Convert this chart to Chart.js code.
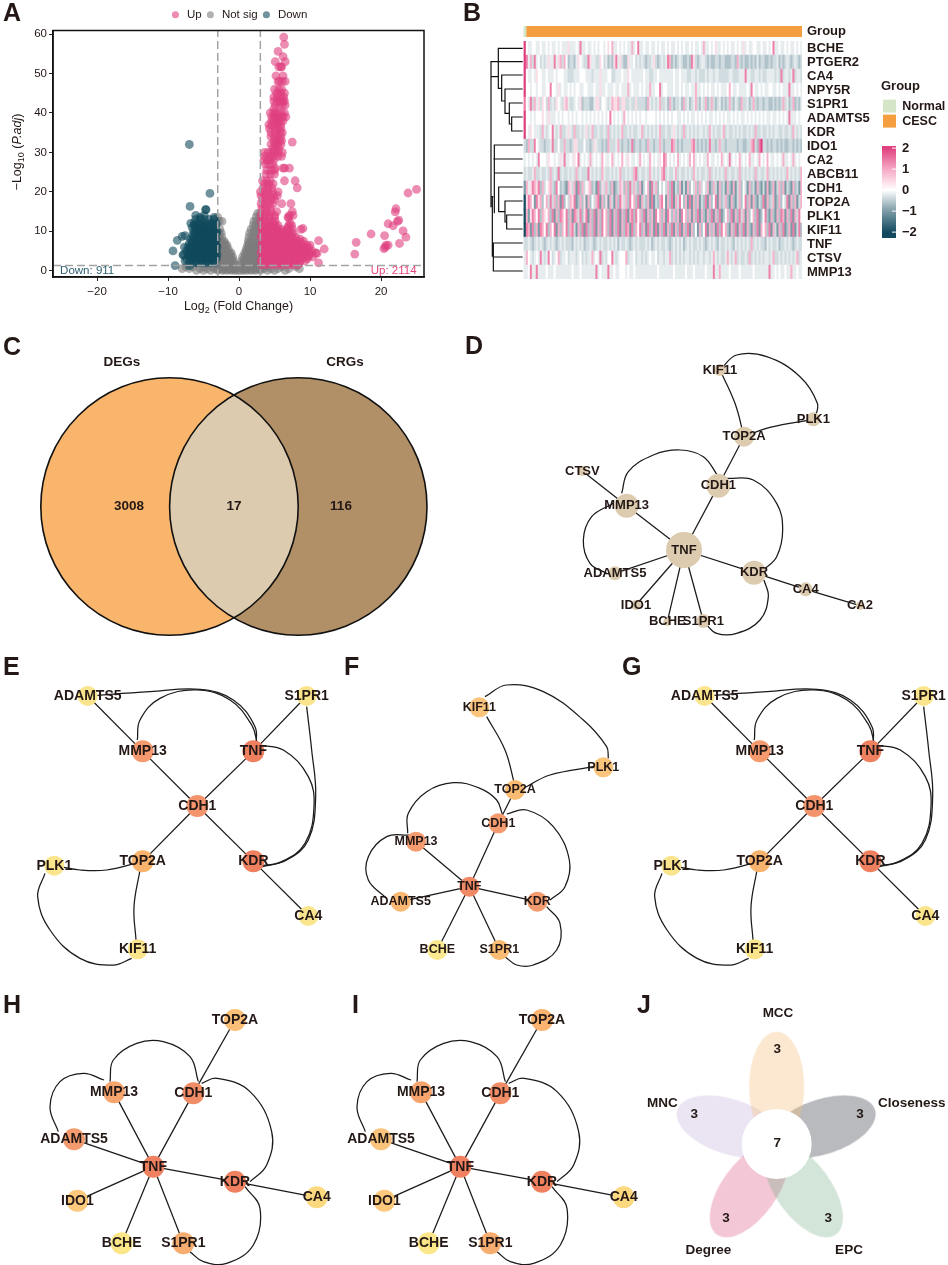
<!DOCTYPE html>
<html>
<head>
<meta charset="utf-8">
<title>Figure</title>
<script src="https://cdn.jsdelivr.net/npm/chart.js@4/dist/chart.umd.min.js"></script>
<style>
  html, body { margin: 0; background: #fff; }
  #page { position: relative; width: 948px; height: 1265px; overflow: hidden; }
  #page canvas { position: absolute; }
  .tag { position: absolute; font: bold 25px/25px "Liberation Sans", Arial, sans-serif; color: #231815; }
</style>
</head>
<body>
<div id="page"></div>
<script>
// ---------- A: volcano, each row is [y, x, x, x ...]
const upRows = [
  [1.5, 3.2,3.9,4.7,5.4,6.1,6.9,7.6,8.3], [2.5, 3.1,3.7,4.4,5.1,5.8,6.5,7.2,7.9,8.6,9.3],
  [3.5, 3.4,4.1,4.8,5.5,6.2,6.9,7.6,8.3,9,9.7,10.4], [4.5, 3.1,3.8,4.5,5.2,5.9,6.6,7.3,8,8.7,9.4,10.1,10.8],
  [5.5, 3.4,4.1,4.8,5.5,6.2,6.9,7.6,8.3,9,9.7], [6.5, 3.2,3.9,4.6,5.3,6,6.7,7.4,8.1,8.8,9.5,10],
  [7.5, 3.5,4.2,4.9,5.6,6.3,7,7.7,8.4,9.1], [8.5, 3.1,3.8,4.5,5.2,5.9,6.6,7.3,8],
  [9.5, 3.4,4.1,4.8,5.5,6.2,6.9,7.6], [10.5, 3.2,3.9,4.6,5.3,6,6.8,7.5,8.7],
  [11.5, 3.5,4.2,4.9,5.5,7,7.4], [12.5, 3.1,3.8,4.5,5.1], [13.5, 3.4,4.2,5,7,6.9],
  [2, 3.5,4.2,4.9,5.6,6.3,7,7.7,8.5], [3, 3.2,3.8,4.5,5.2,5.9,6.6,7.3,8,8.8,9.6],
  [4, 3.6,4.3,5,5.7,6.4,7.1,7.8,8.5,9.2,9.9], [5, 3.2,3.9,4.6,5.3,6,6.7,7.4,8.1,8.8,9.5,10.3],
  [6, 3.6,4.3,5,5.7,6.4,7.1,7.8,8.5,9.2,9.8], [7, 3.3,4,4.7,5.4,6.1,6.8,7.5,8.2,8.9],
  [8, 3.6,4.3,5,5.7,6.4,7.1,7.8,8.6], [9, 3.2,3.9,4.6,5.3,6,6.7,7.4], [10, 3.6,4.3,5,5.7,6.4,7.1],
  [11, 3.3,4,4.7,5.3,6.9], [12, 3.6,4.3,4.9,7.2],
  [14, 3.1,3.7,4.3,5,7.1,7.6], [15, 3.3,3.9,4.5,5.3,7.5], [16, 3.2,3.8,4.4],
  [17, 3.1,3.6,4.2,4.8,6,7.3], [18, 3.3,3.9,4.5,5], [19, 3.1,3.7,4.3,4.9,5.4],
  [20, 3,3.5,4.1,4.7,5.5], [21, 3.4,4,4.6,8.2], [22, 3.6,4.2,4.8], [22.8, 3.3,3.9,4.4,6.4,7.9],
  [24.5, 3.8,4.4,5], [25.5, 3.9,4.5,5], [26, 6.2,6.4,7.1,5.1], [27, 3.7,4.2,4.7],
  [28, 3.5,4,4.4,4.9], [29, 3.6,4.4,4.9,5.5,6], [30, 3.6,4.1,4.6,5,5.5,6.1], [31, 4.8,5.2,5.6],
  [32, 4.5,5,5.4,5.9], [32.6, 7.5], [33, 4.9,5.3,5.7,6], [34, 4.5,5,5.4,5.9], [35, 4.5,5.1,5.8,6.1],
  [36, 4.3,5.1,5.5,5.9], [37, 4.2,4.6,5.1,5.5,5.9], [38, 4.6,5,5.4,5.8,6.2], [39, 4.6,5,5.4,5.8,6.2,6.6],
  [40, 4.4,4.9,5.2,5.6,6,6.4], [41, 4.9], [42, 5.1,5.7,6.1,6.5], [43, 4.9,5.4,5.8,6.2,6.4],
  [44, 4.9,5.4,5.9,6.3], [45, 5.3,5.9,6.4], [46, 5,5.6,6], [48, 5.5,5.7,6.1,6.5], [49.4, 5.2,6.2],
  [51.7, 5.6,5.9,6], [53, 5.1,6.5], [54.3, 6.2], [55.6, 5.5], [57.4, 6.4], [59.2, 6.3],
  [4.2, 16.3], [7.2, 16.5], [9.3, 18.6], [5.6, 20.4], [6, 20.6], [6.5, 20.7,21], [8.9, 20.5], [11.4, 21.7],
  [11.9, 21], [14.9, 22], [15.7, 22.1], [12.5, 22.3], [12.8, 22.5], [10.1, 23.1], [8.5, 23.5], [6.9, 22.6],
  [19.7, 23.8], [20.6, 25], [7.6, 11.2], [5.5, 12], [4.4, 11], [2, 11.2], [10.7, 9]
];
const downRows = [
  [2, -7,-6.4,-5.8,-5.2,-4.6,-4,-3.4], [3, -7.4,-6.8,-6.2,-5.6,-5,-4.4,-3.8,-3.2],
  [4, -7.8,-7.1,-6.5,-5.9,-5.3,-4.7,-4.1,-3.5,-3.1], [5, -7.4,-6.8,-6.2,-5.6,-5,-4.4,-3.8,-3.2],
  [6, -7.2,-6.6,-6,-5.4,-4.8,-4.2,-3.6,-3.1], [7, -7,-6.4,-5.8,-5.2,-4.6,-4,-3.4],
  [8, -6.8,-6.2,-5.6,-5,-4.4,-3.8,-3.2], [9, -6.5,-5.9,-5.3,-4.7,-4.1,-3.5],
  [10, -6.4,-5.8,-5.2,-4.6,-4,-3.4,-3.1], [11, -6.6,-6,-5.4,-4.8,-4.2,-3.6],
  [12, -6.8,-6.3,-5.7,-5,-4.4,-3.8,-3.2], [13, -6.1,-5.4,-4.9,-4.2,-3.5],
  [2.5, -6.7,-6,-5.3,-4.7,-4.1,-3.6], [3.5, -7,-6.4,-5.7,-5.1,-4.5,-3.9,-3.3],
  [4.5, -7.2,-6.6,-6,-5.4,-4.8,-4.2,-3.6], [5.5, -7,-6.4,-5.8,-5.2,-4.6,-4,-3.4],
  [6.5, -6.8,-6.2,-5.6,-5,-4.4,-3.8,-3.2], [7.5, -6.6,-6,-5.4,-4.8,-4.2,-3.6],
  [8.5, -6.4,-5.8,-5.2,-4.6,-4,-3.4], [9.5, -6.2,-5.6,-5,-4.4,-3.8,-3.2],
  [10.5, -6.1,-5.5,-4.9,-4.3,-3.7], [11.5, -6.3,-5.7,-5.1,-4.5,-3.9,-3.3],
  [5, -9.3], [1.3, -9], [7.7, -8.7], [8.7, -8], [4, -7.9], [2.5, -7.6], [1.2, -7], [8.9, -7.6], [32, -7],
  [16.3, -6.9], [19.6, -4.1], [15.5, -4.7,-4.65], [14, -6.1,-4.9], [13.5, -3.5,-5.5], [6, -7.7]
];
const flatRows = [
  [0.1, -6,-5,-4,-3,-2.3,-1.7,-1.1,-.6,-.2,.2,.6,1.1,1.7,2.3,3,4,5,6.5],
  [0.3, -3,-2.2,-1.5,-.8,.8,1.5,2.2,3],
  [0.5, -8,-7,-5.5,-4.5,-3.5,-2.7,-2,-1.4,-.9,-.5,.5,.9,1.4,2,2.7,3.5,4.5,5.5,7,8.5],
  [1, -7.5,-6.5,-5,-3.8,-2.8,-2.2,-1.6,-1,-.6,.6,1,1.6,2.2,2.8,4,6,8],
  [1.6, -2.9,-2.3,-1.7,-1.1,-.6,.3,.8,1.3,1.8,2.3,2.9], [2, -2.6,-2,-1.4,-.8,.6,1.1,1.6,2.1,2.6],
  [2.5, -2.9,-2.3,-1.7,-1.1,-.7,.4,.9,1.4,1.9,2.4,2.9], [3, -2.6,-2.1,-1.6,-1.1,.7,1.2,1.7,2.2,2.7],
  [3.5, -2.9,-2.4,-1.9,-1.4,-.9,.5,1,1.5,2,2.5,2.9], [4, -2.6,-2.1,-1.6,-1.2,.9,1.4,1.9,2.4,2.8],
  [4.5, -2.9,-2.4,-1.9,-1.4,-1.1,.8,1.2,1.7,2.2,2.6,2.9], [5, -2.6,-2.2,-1.7,1.1,1.6,2.1,2.6],
  [5.5, -2.9,-2.4,-2,-1.5,1,1.5,2,2.5,2.9], [6, -2.7,-2.2,-1.8,1.3,1.8,2.3,2.8],
  [6.5, -2.9,-2.4,-2,-1.7,1.2,1.6,2.1,2.6,2.9], [7, -2.7,-2.3,-2,1.4,1.9,2.4,2.85],
  [7.5, -2.9,-2.5,-2.1,1.3,1.8,2.3,2.8], [8.5, -2.8,-2.45,1.4,1.9,2.4,2.9], [9.5, -2.8,-2.5,1.5,2,2.5,2.9],
  [10.5, -2.7,1.7,2.2,2.7], [11.5, 2,2.4,2.8], [12.5, -2.8,-2.4,2.1,2.5,2.9], [13.5, -3,2.4,2.9], [14.5, 2.6,2.95]
];
const xTickLabel = v => String(v).replace('-', '\u2212');

// ---------- B: heatmap, one digit per column, digit is an index into heatLevels
const genes = ['BCHE','PTGER2','CA4','NPY5R','S1PR1','ADAMTS5','KDR','IDO1','CA2','ABCB11','CDH1','TOP2A','PLK1','KIF11','TNF','CTSV','MMP13'];
const heatLevels = [-2, -1.0, -0.6, -0.35, -0.18, 0, 0.4, 0.9, 1.4, 2];
const heatRows = [
  '9544554454 4545445454 4464445484 4544545455 4565744545 4544745844 5445445454 4545445454 5445454454 7445456445 4545445454 6454455445 4454584454 4545445454',
  '9847384534 3464484673 7523324654 3386443365 3423268463 2264453434 3233463234 3487232343 2232863234 4323223323 3222332732 3223232423 3223233423 2343234323',
  '9544546554 4544454555 4433344455 5444344464 4455334445 4465444444 5443344544 4444454454 4433443433 3434434433 3334433344 4844334434 3344443438 3443483443',
  '9554554554 4558554645 4454545544 5544454464 4544454454 4474544454 5447445584 5544454454 5445447445 4545445454 4457544544 4454854454 5445544545 4448445454',
  '8548374636 5373436543 6743345462 3332246635 5434766736 6334336333 3274343473 3427323342 7342347324 3723732342 3237324327 3342373233 2332232323 7342372324',
  '9554545556 5464445454 5545454554 5454545454 5458545454 7545454545 5455554545 4545455445 4545445454 5454454545 4544545454 4545454545 4544544545 4548444545',
  '9546544437 4345843473 3464373343 4634733433 4373434347 3343433447 3434343473 3433464343 7343434344 3437434334 7343343434 3343437334 3343434433 4334374343',
  '3273385433 2334833533 7332366333 5332364332 3273334732 3323823323 3273323373 2333873232 3333783232 3238332373 3233333233 2233783289 3323233232 3223323232',
  '4545454855 5465545464 8445465845 4547454547 5445745457 5465445475 4547545465 8754545745 4547574545 4475445457 4548454574 5457445475 4575445454 7445474545',
  '3433473343 3437343834 3343437343 3384343437 4334343473 3434378343 3437434347 8343347343 3434374343 3437343434 3734334373 4343437343 3473434343 4374343437',
  '1746876827 3567328523 2176371827 3567231826 3732712376 2728373271 3571837253 5372813271 3172537273 5371273172 3172171372 5317231721 3171271372 7132172317',
  '0687518672 5738372718 2537681272 6172537817 2617317286 3728572817 3271813278 5172817385 2718172713 2817258172 3721721372 5827172132 8172371272 5381727137',
  '0716875827 6572817287 5827187382 6817281728 5728172817 2817828572 8172718572 7186272718 5727172817 2172817281 2572817283 7172572812 5821721728 7172817385',
  '0871827187 5827581727 5827831728 1827281728 5728172817 2871827582 7182718172 8172817281 7281725172 5817271828 5721728172 8172172817 5728173172 8127181382',
  '3343234343 2343432343 4333243434 2334323434 3343434243 3432343433 3434234343 3432343434 2343433434 3234343243 3434324343 4343734343 3243433423 3434323433',
  '4754345484 3485345734 4534443453 4344745483 4355843455 5734453443 4345445344 3447343434 3443434344 3443474343 3474347343 3437343434 3443473343 4343434734',
  '4458448444 4544454444 4444544454 4444448454 4484454455 5454454444 4444444544 4444454444 4544454444 4544484474 4445444454 4444454444 4448445454 4544744544'
];
const groupNames = ['Normal', 'CESC'];
const groupCounts = [1.3, 138.7];
const colorTicks = [-2, -1, 0, 1, 2];
// dendrogram branches, x = merge height, y = row position, null breaks the line
const dendroX = [188,155,155,188,null, 155,148,148,188,null, 148,135,135,188,null, 135,125,125,188,null, 125,115,115,188,null,
  188,93,93,null, 93,115,null, 188,103,103,null, 188,100,null, 188,103,null, 188,116,116,135,null, 188,135,135,140,null,
  188,140,140,188,null, 93,100,null, 188,100,100,188,null, 100,188,null, 97,97,null, 103,103,null];
const dendroY = [351,351,393,393,null, 372,372,309,309,null, 340,340,267,267,null, 303,303,225,225,null, 265,265,145,145,null,
  185,185,622,null, 230,230,null, 435,435,500,null, 477,477,null, 519,519,null, 561,561,635,635,null, 603,603,666,666,null,
  645,645,687,687,null, 590,590,null, 729,729,813,813,null, 771,771,null, 590,770,null, 480,640,null];

// ---------- C: venn
const vennSets = ['DEGs', 'CRGs'];
const vennOnly = [3008, 116];
const vennBoth = 17;

// ---------- D to I: networks, coordinates are layout positions
const netD = {
  names: ['KIF11','PLK1','TOP2A','CDH1','CTSV','MMP13','TNF','ADAMTS5','IDO1','BCHE','S1PR1','KDR','CA4','CA2'],
  x: [540,820,612,535,127,260,432,225,288,382,490,642,797,960],
  y: [90,238,290,437,393,497,630,700,795,845,843,698,748,797],
  r: [6,7,10,12,5,12,18,7,5,4,7,12,7,4],
  links: [['TOP2A','CDH1'],['CDH1','TNF'],['MMP13','TNF'],['CTSV','MMP13'],['ADAMTS5','TNF'],['IDO1','TNF'],['BCHE','TNF'],['S1PR1','TNF'],['KDR','TNF'],['KDR','CA4'],['CA4','CA2']],
  arcs: [[612,290,585,190,540,90], [540,90,590,45,680,50,780,110,832,190,825,235], [612,290,690,262,820,238],
    [245,460,265,395,340,345,420,330,490,350,535,410], [220,490,155,530,130,600,150,670,200,700],
    [560,415,640,420,710,490,728,570,710,650,670,690], [672,720,685,770,660,840,590,880,530,880,495,850]]
};
const netDColors = netD.names.map(() => '#dccbaf');
const netE = {
  names: ['ADAMTS5','S1PR1','MMP13','TNF','CDH1','TOP2A','KDR','PLK1','CA4','KIF11'],
  x: [263,920,428,760,592,428,760,163,925,413],
  y: [138,138,304,304,468,634,634,647,798,898],
  r: [10,10,11,11,11,11,11,10,10,10],
  links: [['ADAMTS5','MMP13'],['MMP13','CDH1'],['TNF','CDH1'],['CDH1','TOP2A'],['CDH1','KDR'],['KDR','CA4'],['TNF','S1PR1']],
  arcs: [[263,138,450,125,600,118,700,150,765,230,768,290], [412,270,420,210,480,145,590,120,690,150,755,225,772,280],
    [770,285,850,300,925,380,942,470,915,580,845,635,780,648], [920,170,935,300,947,440,925,570,860,630,780,652],
    [163,647,240,660,320,660,428,634], [420,660,402,770,408,870], [135,670,113,740,150,840,240,925,340,945,395,925]]
};
const netEColors = ['#fae58c','#fae58c','#f59a6e','#ee8060','#f4946c','#f8b36c','#ee8060','#fae58c','#fae58c','#fae58c'];
const netF = {
  names: ['KIF11','PLK1','TOP2A','CDH1','MMP13','TNF','ADAMTS5','KDR','BCHE','S1PR1'],
  x: [448,820,555,505,258,418,212,622,322,508],
  y: [172,352,420,520,575,710,755,755,900,900],
  r: [10,10,10,10,10,10,10,10,10,10],
  links: [['TOP2A','CDH1'],['CDH1','TNF'],['MMP13','TNF'],['ADAMTS5','TNF'],['TNF','KDR'],['TNF','BCHE'],['TNF','S1PR1']],
  arcs: [[470,200,525,300,553,400], [465,140,530,105,640,125,760,210,830,290,835,325], [580,415,660,375,790,350],
    [233,550,235,490,290,425,370,398,450,415,500,450,517,492], [240,555,170,560,115,620,115,690,170,745],
    [530,492,590,480,670,530,718,630,705,710,660,750], [650,770,690,820,680,900,610,945,560,945,525,920]]
};
const netFColors = ['#fbc47c','#fbc47c','#fabc72','#f49b6f','#f49b6f','#f08a66','#fab873','#f49b6f','#fbe98f','#fabc72'];
const netH = {
  names: ['TOP2A','MMP13','CDH1','ADAMTS5','TNF','KDR','CA4','IDO1','BCHE','S1PR1'],
  x: [705,342,580,222,460,705,950,232,365,550],
  y: [105,322,325,463,545,590,637,647,775,775],
  r: [11,11,11,11,11,11,11,11,11,11],
  links: [['TOP2A','CDH1'],['CDH1','TNF'],['MMP13','TNF'],['ADAMTS5','TNF'],['IDO1','TNF'],['BCHE','TNF'],['S1PR1','TNF'],['KDR','TNF'],['KDR','CA4']],
  arcs: [[330,290,340,225,410,175,490,170,570,215,595,290], [312,285,250,265,180,290,150,365,175,440],
    [605,295,650,280,750,320,815,440,800,540,750,590], [735,605,780,670,760,780,680,835,610,830,570,800]]
};
const netHColors = ['#fbbf78','#f7a56f','#f08d66','#f39a6e','#ef8060','#ef8060','#fcd87f','#fcc97d','#fbe689','#f8ad70'];
const netIColors = ['#fab46f','#f7a56f','#f08d66','#fbc47c','#ef8060','#ef8060','#fcd87f','#fcc97d','#fbe689','#f8ad70'];

// ---------- J: flower
const petalNames = ['MCC','Closeness','EPC','Degree','MNC'];
const petalCounts = [3, 3, 3, 3, 3];
const coreCount = 7;
const petalX = [440,578,521,357,299];
const petalY = [305,425,615,615,425];
const petalAngle = [0,72,144,216,288];
const petalFill = ['rgba(247,190,120,.35)','rgba(100,102,110,.45)','rgba(110,170,125,.3)','rgba(215,70,115,.3)','rgba(160,130,200,.22)'];

// ---------- helpers
Chart.defaults.font.family = '"Liberation Sans", Arial, sans-serif';
Chart.defaults.color = '#231815';
Chart.defaults.animation = false;
Chart.defaults.plugins.legend.display = false;
Chart.defaults.plugins.tooltip.enabled = false;

const page = document.getElementById('page');
function makeCanvas(left, top, w, h) {
  const c = document.createElement('canvas');
  c.width = w; c.height = h;
  c.style.left = left + 'px'; c.style.top = top + 'px';
  c.style.width = w + 'px'; c.style.height = h + 'px';
  page.appendChild(c);
  return c;
}
function tag(text, x, y) {
  const d = document.createElement('div');
  d.className = 'tag'; d.textContent = text;
  d.style.left = x + 'px'; d.style.top = y + 'px';
  page.appendChild(d);
}
const rowsToPoints = rows => rows.flatMap(r => r.slice(1).map(x => ({ x: x, y: r[0] })));

// text at data coordinates
const notes = list => ({
  id: 'notes',
  afterDraw(chart) {
    const c = chart.ctx;
    c.save();
    c.textBaseline = 'middle';
    list.forEach(n => {
      c.font = n.font || 'bold 13px "Liberation Sans", Arial';
      c.fillStyle = n.color || '#231815';
      c.textAlign = n.align || 'center';
      c.fillText(n.text, chart.scales.x.getPixelForValue(n.x), chart.scales.y.getPixelForValue(n.y));
    });
    c.restore();
  }
});

// chart whose hidden scales run over a plain layout box, y pointing down
function layoutChart(left, top, w, h, box, datasets, plugins) {
  return new Chart(makeCanvas(left, top, w, h), {
    type: 'scatter',
    data: { datasets: datasets },
    options: {
      responsive: false,
      layout: { padding: 0, autoPadding: false },
      scales: {
        x: { display: false, min: box[0], max: box[1] },
        y: { display: false, min: box[2], max: box[3], reverse: true }
      }
    },
    plugins: plugins || []
  });
}

function drawNetwork(left, top, w, h, net, colors, font) {
  const idx = n => net.names.indexOf(n);
  const line = pts => ({ data: pts, showLine: true, pointRadius: 0, borderColor: '#1a1a1a', borderWidth: 1.25, clip: false, capBezierPoints: false });
  const links = net.links.map(l => Object.assign(line(l.map(n => ({ x: net.x[idx(n)], y: net.y[idx(n)] }))), { tension: 0 }));
  const arcs = net.arcs.map(a => {
    const pts = [];
    for (let i = 0; i < a.length; i += 2) pts.push({ x: a[i], y: a[i + 1] });
    return Object.assign(line(pts), { tension: 0.4 });
  });
  const nodes = {
    data: net.names.map((n, i) => ({ x: net.x[i], y: net.y[i] })),
    pointRadius: net.r, pointBackgroundColor: colors, pointBorderWidth: 0, clip: false
  };
  const labels = net.names.map((n, i) => ({ text: n, x: net.x[i], y: net.y[i], font: font }));
  layoutChart(left, top, w, h, [0, w * 3, 0, h * 3], [nodes].concat(links, arcs), [notes(labels)]);
}

// rich axis titles for the volcano plot
function richText(c, parts, x, y) {
  let total = 0;
  parts.forEach(p => { c.font = p.font; total += c.measureText(p.t).width; });
  let cx = x - total / 2;
  parts.forEach(p => {
    c.font = p.font;
    c.fillText(p.t, cx, y + (p.dy || 0));
    cx += c.measureText(p.t).width;
  });
}
const base = '12.5px "Liberation Sans", Arial';
const small = '9px "Liberation Sans", Arial';
const ital = 'italic 12.5px "Liberation Sans", Arial';

// ---------- A
const plotFrame = {
  id: 'plotFrame',
  afterDraw(chart) {
    const c = chart.ctx, a = chart.chartArea;
    c.save();
    c.strokeStyle = '#111'; c.lineWidth = 1.5;
    c.strokeRect(a.left, a.top, a.right - a.left, a.bottom - a.top);
    c.fillStyle = '#231815'; c.textBaseline = 'middle';
    richText(c, [{ t: 'Log', font: base }, { t: '2', font: small, dy: 4 }, { t: ' (Fold Change)', font: base }], (a.left + a.right) / 2, 307);
    c.translate(18, 152); c.rotate(-Math.PI / 2);
    richText(c, [{ t: '\u2212Log', font: base }, { t: '10', font: small, dy: 4 }, { t: ' (', font: base }, { t: 'P.adj', font: ital }, { t: ')', font: base }], 0, 0);
    c.restore();
    c.save();
    c.font = '11.5px "Liberation Sans", Arial'; c.textBaseline = 'middle';
    c.fillStyle = '#2a5f70'; c.textAlign = 'left';
    c.fillText('Down: 911', chart.scales.x.getPixelForValue(-25.2), chart.scales.y.getPixelForValue(0));
    c.fillStyle = '#e8447f'; c.textAlign = 'right';
    c.fillText('Up: 2114', chart.scales.x.getPixelForValue(25), chart.scales.y.getPixelForValue(0));
    c.restore();
  }
};
const cutLine = pts => ({ data: pts, showLine: true, pointRadius: 0, borderColor: '#a3a3a3', borderWidth: 1.5, borderDash: [8, 4], order: 0 });
new Chart(makeCanvas(0, 0, 440, 320), {
  type: 'scatter',
  data: {
    datasets: [
      { label: 'Up', data: rowsToPoints(upRows), backgroundColor: 'rgba(224,64,127,.6)', pointRadius: 4.4, borderWidth: 0, order: 1 },
      { label: 'Not sig', data: rowsToPoints(flatRows), backgroundColor: 'rgba(125,125,125,.6)', pointRadius: 4.4, borderWidth: 0, order: 3 },
      { label: 'Down', data: rowsToPoints(downRows), backgroundColor: 'rgba(15,74,92,.6)', pointRadius: 4.4, borderWidth: 0, order: 2 },
      cutLine([{ x: -3, y: -1.6 }, { x: -3, y: 60.9 }]),
      cutLine([{ x: 3, y: -1.6 }, { x: 3, y: 60.9 }]),
      cutLine([{ x: -26.2, y: 1.3 }, { x: 26.05, y: 1.3 }])
    ]
  },
  options: {
    responsive: false,
    layout: { padding: { right: 16, top: 6 }, autoPadding: false },
    plugins: {
      legend: {
        display: true, position: 'top', fullSize: false,
        labels: {
          usePointStyle: true, pointStyle: 'circle', boxHeight: 5, padding: 3,
          font: { size: 11.5 }, color: '#231815',
          filter: item => item.text !== undefined,
          sort: (a, b) => a.datasetIndex - b.datasetIndex
        }
      }
    },
    scales: {
      x: {
        type: 'linear', min: -26.2, max: 26.05,
        afterFit: s => { s.height = 43; s.paddingLeft = 0; s.paddingRight = 0; },
        ticks: { stepSize: 10, includeBounds: false, maxRotation: 0, font: { size: 11.5 }, color: '#231815', padding: 4, callback: xTickLabel },
        grid: { drawOnChartArea: false, tickLength: 4, tickColor: '#222' },
        border: { color: '#111', width: 1.5 }
      },
      y: {
        min: -1.6, max: 60.9,
        afterFit: s => { s.width = 53; s.paddingTop = 0; s.paddingBottom = 0; },
        ticks: { stepSize: 10, includeBounds: false, font: { size: 11.5 }, color: '#231815', padding: 2, callback: xTickLabel },
        grid: { drawOnChartArea: false, tickLength: 4, tickColor: '#222' },
        border: { color: '#111', width: 1.5 }
      }
    }
  },
  plugins: [plotFrame]
});

// ---------- B
const heatStops = [[-2, [19,74,95]], [-1, [123,155,166]], [0, [255,255,255]], [1, [246,169,197]], [2, [224,64,127]]];
function heatColor(z) {
  for (let i = 1; i < heatStops.length; i++) {
    if (z <= heatStops[i][0]) {
      const a = heatStops[i - 1], b = heatStops[i], t = (z - a[0]) / (b[0] - a[0]);
      return 'rgb(' + a[1].map((v, k) => Math.round(v + (b[1][k] - v) * t)).join(',') + ')';
    }
  }
  return 'rgb(224,64,127)';
}
const heatCells = heatRows.map(r => r.replace(/ /g, '').split('').map(d => heatLevels[+d]));
const columnCount = heatCells[0].length;
const columns = [];
for (let col = 0; col < columnCount; col++) {
  columns.push({ data: genes.map(() => 1), backgroundColor: heatCells.map(row => heatColor(row[col])), borderWidth: 0, barPercentage: 1, categoryPercentage: 1 });
}
const geneAxis = {
  position: 'right', stacked: true,
  afterFit: s => { s.width = 146; s.paddingTop = 0; s.paddingBottom = 0; },
  ticks: { font: { size: 13, weight: 'bold' }, color: '#231815', padding: 5, autoSkip: false },
  grid: { display: false, drawTicks: false }, border: { display: false }
};
new Chart(makeCanvas(520, 38, 428, 244), {
  type: 'bar',
  data: { labels: genes, datasets: columns },
  options: {
    indexAxis: 'y', responsive: false,
    layout: { padding: { left: 3.5, top: 3, bottom: 3 } },
    scales: { x: { display: false, stacked: true, min: 0, max: columnCount }, y: geneAxis }
  }
});
new Chart(makeCanvas(520, 20, 428, 23), {
  type: 'bar',
  data: {
    labels: ['Group'],
    datasets: [
      { data: [groupCounts[0]], backgroundColor: '#d5e6c8', barPercentage: 1, categoryPercentage: 1 },
      { data: [groupCounts[1]], backgroundColor: '#f59e3f', barPercentage: 1, categoryPercentage: 1 }
    ]
  },
  options: {
    indexAxis: 'y', responsive: false,
    layout: { padding: { left: 3.5, top: 6, bottom: 6 } },
    scales: { x: { display: false, stacked: true, min: 0, max: columnCount }, y: geneAxis }
  }
});
layoutChart(488, 38, 36, 245, [84, 192, 114, 849], [{
  data: dendroX.map((x, i) => ({ x: x === null ? NaN : x, y: dendroY[i] === null ? NaN : dendroY[i] })),
  showLine: true, spanGaps: false, pointRadius: 0, borderColor: '#111', borderWidth: 1.2
}]);
// group legend
new Chart(makeCanvas(881, 78, 67, 56), {
  type: 'bar',
  data: {
    labels: [],
    datasets: [
      { label: groupNames[0], data: [], backgroundColor: '#d5e6c8' },
      { label: groupNames[1], data: [], backgroundColor: '#f59e3f' }
    ]
  },
  options: {
    responsive: false,
    layout: { padding: 0 },
    scales: { x: { display: false }, y: { display: false } },
    plugins: {
      legend: {
        display: true, position: 'left', align: 'start', maxWidth: 67,
        title: { display: true, text: 'Group', position: 'start', font: { size: 13, weight: 'bold' }, padding: { top: 2, bottom: 2 }, color: '#231815' },
        labels: { boxWidth: 13, boxHeight: 13, padding: 2, font: { size: 12.5, weight: 'bold' }, color: '#231815' }
      }
    }
  }
});
// colour bar
const colorBarTicks = {
  id: 'colorBarTicks',
  afterDraw(chart) {
    const c = chart.ctx, a = chart.chartArea, y = chart.scales.y;
    c.save();
    c.strokeStyle = '#fff'; c.lineWidth = 1;
    colorTicks.forEach(t => {
      const p = y.getPixelForValue(t);
      c.beginPath(); c.moveTo(a.right - 4, p); c.lineTo(a.right, p); c.stroke();
    });
    c.restore();
  }
};
const barLow = -2.28, barHigh = 2.1;
new Chart(makeCanvas(875, 135, 60, 115), {
  type: 'bar',
  data: {
    labels: ['z'],
    datasets: [{
      data: [[barLow, barHigh]], barPercentage: 1, categoryPercentage: 1,
      backgroundColor: ctx => {
        const a = ctx.chart.chartArea;
        if (!a) return '#fff';
        const g = ctx.chart.ctx.createLinearGradient(0, a.top, 0, a.bottom);
        heatStops.forEach(s => g.addColorStop((barHigh - s[0]) / (barHigh - barLow), heatColor(s[0])));
        return g;
      }
    }]
  },
  options: {
    responsive: false,
    layout: { padding: { left: 7, top: 11, bottom: 12 } },
    scales: {
      x: { display: false },
      y: {
        position: 'right', min: barLow, max: barHigh,
        afterFit: s => { s.width = 39; s.paddingTop = 0; s.paddingBottom = 0; },
        ticks: { stepSize: 1, includeBounds: false, font: { size: 13, weight: 'bold' }, color: '#231815', padding: 6, callback: xTickLabel },
        grid: { display: false, drawTicks: false }, border: { display: false }
      }
    }
  },
  plugins: [colorBarTicks]
});

// ---------- C
const vennOverlap = {
  id: 'vennOverlap',
  afterDatasetsDraw(chart) {
    const c = chart.ctx;
    const a = chart.getDatasetMeta(0).data[0], b = chart.getDatasetMeta(1).data[0];
    const ra = chart.data.datasets[0].pointRadius, rb = chart.data.datasets[1].pointRadius;
    c.save();
    c.beginPath(); c.arc(a.x, a.y, ra, 0, Math.PI * 2); c.clip();
    c.beginPath(); c.arc(b.x, b.y, rb, 0, Math.PI * 2);
    c.fillStyle = '#ddcbaf'; c.fill();
    c.restore();
    c.save();
    c.strokeStyle = '#111'; c.lineWidth = 1.6;
    c.beginPath(); c.arc(a.x, a.y, ra, 0, Math.PI * 2); c.stroke();
    c.beginPath(); c.arc(b.x, b.y, rb, 0, Math.PI * 2); c.stroke();
    c.restore();
  }
};
const vennFont = 'bold 13.5px "Liberation Sans", Arial';
layoutChart(0, 330, 460, 310, [0, 460, 330, 640], [
  { data: [{ x: 169.5, y: 506.5 }], pointRadius: 128.7, pointBackgroundColor: '#f8b56b', pointBorderWidth: 0, clip: false },
  { data: [{ x: 298.3, y: 506.5 }], pointRadius: 128.7, pointBackgroundColor: '#b18f67', pointBorderWidth: 0, clip: false }
], [vennOverlap, notes([
  { text: vennSets[0], x: 122, y: 362, font: vennFont },
  { text: vennSets[1], x: 345, y: 362, font: vennFont },
  { text: String(vennOnly[0]), x: 129, y: 506, font: vennFont },
  { text: String(vennBoth), x: 234, y: 506, font: vennFont },
  { text: String(vennOnly[1]), x: 341, y: 506, font: vennFont }
])]);

// ---------- D to I
const nf = px => 'bold ' + px + 'px "Liberation Sans", Arial';
drawNetwork(540, 340, 360, 300, netD, netDColors, nf(13));
drawNetwork(0, 650, 340, 330, netE, netEColors, nf(14));
drawNetwork(330, 650, 290, 330, netF, netFColors, nf(12.5));
drawNetwork(617, 650, 340, 330, netE, netEColors, nf(14));
drawNetwork(0, 985, 340, 280, netH, netHColors, nf(14));
drawNetwork(307, 985, 340, 280, netH, netIColors, nf(14));

// ---------- J
function petalImage(fill) {
  const c = document.createElement('canvas');
  c.width = 112; c.height = 58;
  const g = c.getContext('2d');
  g.fillStyle = fill;
  g.beginPath(); g.ellipse(56, 29, 55, 27.5, 0, 0, Math.PI * 2); g.fill();
  return c;
}
const petals = petalNames.map((n, i) => ({
  data: [{ x: petalX[i], y: petalY[i] }],
  pointStyle: petalImage(petalFill[i]),
  pointRotation: petalAngle[i] - 90,
  pointRadius: 30, clip: false
}));
const core = { data: [{ x: 440, y: 477 }], pointRadius: 35, pointBackgroundColor: '#fff', pointBorderWidth: 0 };
const petalNoteFont = nf(13.5);
layoutChart(630, 985, 318, 280, [0, 954, 0, 840], [core].concat(petals), [notes([
  { text: petalNames[0], x: 444, y: 85, font: petalNoteFont },
  { text: petalNames[1], x: 845, y: 355, font: petalNoteFont },
  { text: petalNames[2], x: 657, y: 795, font: petalNoteFont },
  { text: petalNames[3], x: 235, y: 795, font: petalNoteFont },
  { text: petalNames[4], x: 97, y: 355, font: petalNoteFont },
  { text: String(petalCounts[0]), x: 442, y: 193, font: petalNoteFont },
  { text: String(petalCounts[1]), x: 690, y: 388, font: petalNoteFont },
  { text: String(petalCounts[2]), x: 595, y: 700, font: petalNoteFont },
  { text: String(petalCounts[3]), x: 288, y: 700, font: petalNoteFont },
  { text: String(petalCounts[4]), x: 193, y: 388, font: petalNoteFont },
  { text: String(coreCount), x: 442, y: 475, font: petalNoteFont }
])]);

// ---------- panel letters
tag('A', 3, 0); tag('B', 463, 0); tag('C', 3, 334); tag('D', 465, 333);
tag('E', 3, 654); tag('F', 344, 654); tag('G', 622, 654);
tag('H', 3, 992); tag('I', 352, 992); tag('J', 637, 992);
</script>
</body>
</html>
